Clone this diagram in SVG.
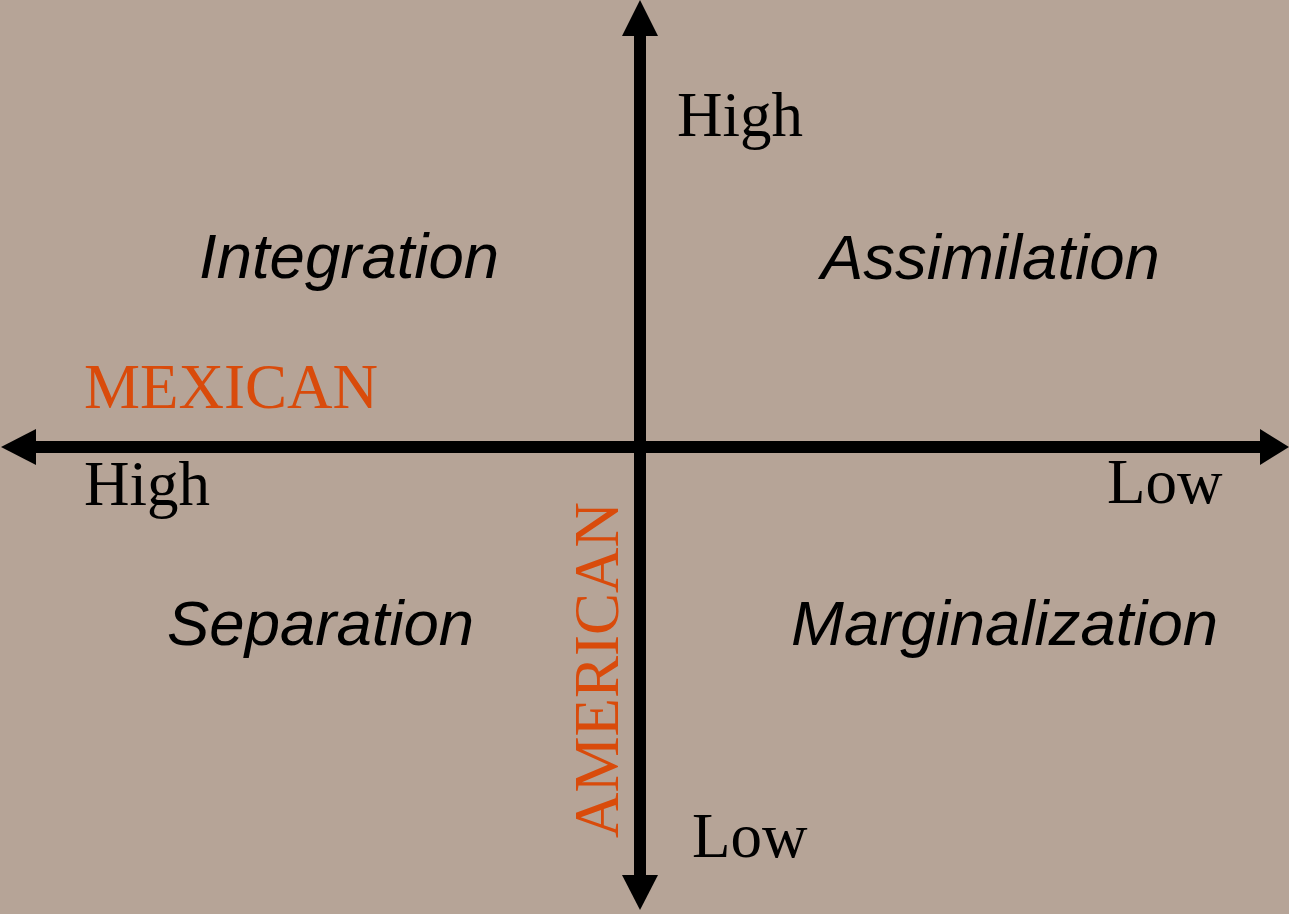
<svg xmlns="http://www.w3.org/2000/svg" width="1289" height="914" viewBox="0 0 1289 914">
<style>
.lbl{font-family:"Liberation Serif","Times New Roman",serif;font-size:63px;fill:#000}
.axis{font-family:"Liberation Serif","Times New Roman",serif;font-size:63px;fill:#D94B0B}
.quad{font-family:"Liberation Sans",Arial,sans-serif;font-style:italic;font-size:63.5px;fill:#000}
.ln{stroke:#000;stroke-width:12;fill:none}
</style>
<rect width="1289" height="914" fill="#B6A497"/>
<g id="connectors">
<line class="ln" x1="36" y1="447" x2="1260" y2="447"/>
<polygon points="1,447 36,429 36,465"/>
<polygon points="1289,447 1260,429 1260,465"/>
<line class="ln" x1="640" y1="35" x2="640" y2="876"/>
<polygon points="640,0 622,36 658,36"/>
<polygon points="640,910 622,875 658,875"/>
</g>
<g id="integration"><text class="quad" x="199" y="278">Integration</text></g>
<g id="assimilation"><text class="quad" x="821" y="279">Assimilation</text></g>
<g id="separation"><text class="quad" x="167" y="645">Separation</text></g>
<g id="marginalization"><text class="quad" x="791" y="645">Marginalization</text></g>
<g id="mexican"><text class="axis" x="84" y="408">MEXICAN</text></g>
<g id="american"><text class="axis" transform="translate(618,838) rotate(-90)">AMERICAN</text></g>
<g id="high-top"><text class="lbl" x="677" y="136">High</text></g>
<g id="high-left"><text class="lbl" x="84" y="505">High</text></g>
<g id="low-right"><text class="lbl" x="1107" y="503">Low</text></g>
<g id="low-bottom"><text class="lbl" x="692" y="857">Low</text></g>
</svg>
